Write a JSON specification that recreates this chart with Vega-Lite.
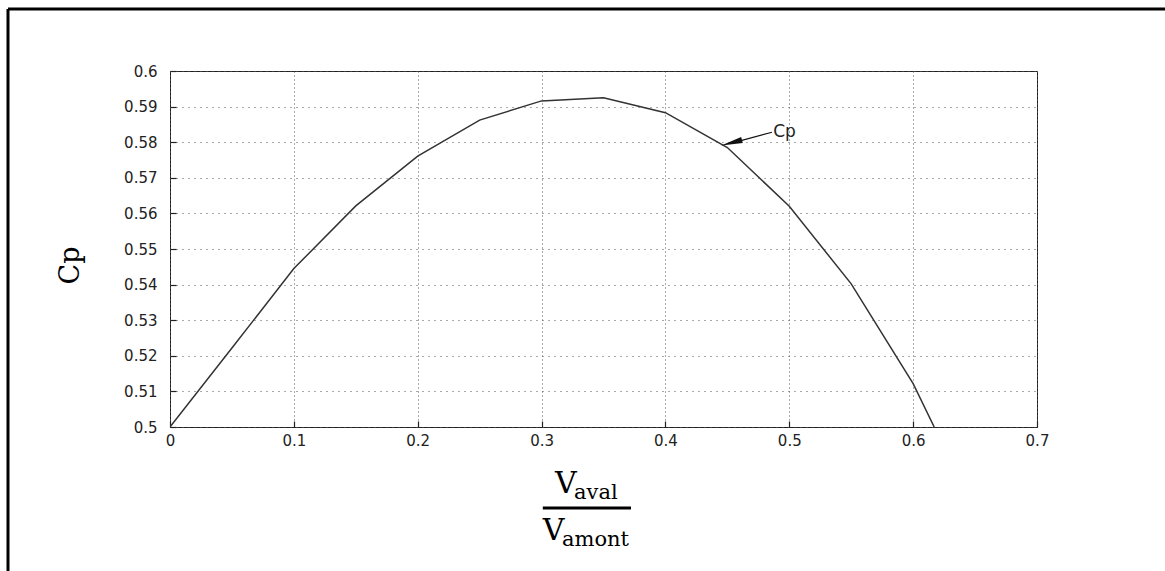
{
  "$schema": "https://vega.github.io/schema/vega-lite/v6.json",
  "width": 867,
  "height": 356,
  "autosize": {"type": "none"},
  "padding": {"left": 170, "top": 71, "right": 128, "bottom": 144},
  "background": "white",
  "config": {
    "view": {"stroke": "#222", "strokeWidth": 1},
    "axis": {
      "labelFont": "DejaVu Sans",
      "labelFontSize": 15,
      "labelColor": "#222",
      "labelOverlap": false,
      "labelFlush": false,
      "domain": false,
      "tickColor": "#222",
      "tickSize": -6,
      "tickWidth": 1.2,
      "gridColor": "#555",
      "gridWidth": 1,
      "gridOpacity": 1
    }
  },
  "datasets": {
    "curve": [
      {"ratio": 0.0, "cp": 0.5},
      {"ratio": 0.05, "cp": 0.5222},
      {"ratio": 0.1, "cp": 0.5445},
      {"ratio": 0.15, "cp": 0.5621},
      {"ratio": 0.2, "cp": 0.5761},
      {"ratio": 0.25, "cp": 0.5862},
      {"ratio": 0.3, "cp": 0.5916},
      {"ratio": 0.35, "cp": 0.5925},
      {"ratio": 0.4, "cp": 0.5883},
      {"ratio": 0.45, "cp": 0.5785},
      {"ratio": 0.5, "cp": 0.562},
      {"ratio": 0.55, "cp": 0.5402},
      {"ratio": 0.6, "cp": 0.5122},
      {"ratio": 0.617, "cp": 0.5}
    ],
    "one": [{}]
  },
  "encoding": {
    "x": {
      "type": "quantitative",
      "scale": {"domain": [0, 0.7], "nice": false, "zero": false},
      "axis": {
        "values": [0, 0.1, 0.2, 0.3, 0.4, 0.5, 0.6, 0.7],
        "tickCount": 30,
        "format": ".1~f",
        "labelPadding": 12,
        "gridDash": [1, 3],
        "title": null
      }
    },
    "y": {
      "type": "quantitative",
      "scale": {"domain": [0.5, 0.6], "nice": false, "zero": false},
      "axis": {
        "values": [0.5, 0.51, 0.52, 0.53, 0.54, 0.55, 0.56, 0.57, 0.58, 0.59, 0.6],
        "tickCount": 30,
        "format": ".2~f",
        "labelPadding": 19,
        "gridDash": [1, 5],
        "title": "Cp",
        "titleFont": "DejaVu Serif",
        "titleFontSize": 27,
        "titleFontWeight": "normal",
        "titleColor": "#000",
        "titleY": 194,
        "titleX": -86
      }
    }
  },
  "layer": [
    {
      "data": {"name": "curve"},
      "mark": {"type": "line", "color": "#333", "strokeWidth": 1.5, "clip": true},
      "encoding": {
        "x": {"field": "ratio", "type": "quantitative"},
        "y": {"field": "cp", "type": "quantitative"}
      }
    },
    {
      "data": {"name": "one"},
      "mark": {"type": "rule", "color": "#111", "strokeWidth": 1.2},
      "encoding": {
        "x": {"datum": 0.486, "type": "quantitative"},
        "y": {"datum": 0.5828, "type": "quantitative"},
        "x2": {"datum": 0.455},
        "y2": {"datum": 0.5799}
      }
    },
    {
      "data": {"name": "one"},
      "mark": {"type": "point", "shape": "wedge", "filled": true, "color": "#111", "size": 620, "angle": 255, "opacity": 1},
      "encoding": {
        "x": {"datum": 0.4562, "type": "quantitative"},
        "y": {"datum": 0.5801, "type": "quantitative"}
      }
    },
    {
      "data": {"name": "one"},
      "mark": {"type": "text", "font": "DejaVu Sans", "fontSize": 17, "color": "#222", "align": "left", "baseline": "middle"},
      "encoding": {
        "x": {"datum": 0.487, "type": "quantitative"},
        "y": {"datum": 0.5829, "type": "quantitative"},
        "text": {"value": "Cp"}
      }
    },
    {
      "data": {"name": "one"},
      "mark": {"type": "text", "font": "DejaVu Serif", "fontSize": 30, "color": "#000", "align": "left", "baseline": "alphabetic"},
      "encoding": {
        "x": {"datum": 0.3108, "type": "quantitative"},
        "y": {"datum": 0.48146, "type": "quantitative"},
        "text": {"value": "V"}
      }
    },
    {
      "data": {"name": "one"},
      "mark": {"type": "text", "font": "DejaVu Serif", "fontSize": 21, "color": "#000", "align": "left", "baseline": "alphabetic"},
      "encoding": {
        "x": {"datum": 0.3262, "type": "quantitative"},
        "y": {"datum": 0.47978, "type": "quantitative"},
        "text": {"value": "aval"}
      }
    },
    {
      "data": {"name": "one"},
      "mark": {"type": "rule", "color": "#000", "strokeWidth": 3},
      "encoding": {
        "x": {"datum": 0.301, "type": "quantitative"},
        "x2": {"datum": 0.3722},
        "y": {"datum": 0.47725, "type": "quantitative"}
      }
    },
    {
      "data": {"name": "one"},
      "mark": {"type": "text", "font": "DejaVu Serif", "fontSize": 30, "color": "#000", "align": "left", "baseline": "alphabetic"},
      "encoding": {
        "x": {"datum": 0.301, "type": "quantitative"},
        "y": {"datum": 0.46826, "type": "quantitative"},
        "text": {"value": "V"}
      }
    },
    {
      "data": {"name": "one"},
      "mark": {"type": "text", "font": "DejaVu Serif", "fontSize": 21, "color": "#000", "align": "left", "baseline": "alphabetic"},
      "encoding": {
        "x": {"datum": 0.3165, "type": "quantitative"},
        "y": {"datum": 0.46657, "type": "quantitative"},
        "text": {"value": "amont"}
      }
    },
    {
      "data": {"name": "one"},
      "mark": {"type": "rule", "color": "#000", "strokeWidth": 3},
      "encoding": {
        "x": {"datum": -0.1308, "type": "quantitative"},
        "y": {"datum": 0.4500, "type": "quantitative"},
        "y2": {"datum": 0.6174}
      }
    },
    {
      "data": {"name": "one"},
      "mark": {"type": "rule", "color": "#000", "strokeWidth": 3},
      "encoding": {
        "x": {"datum": -0.1308, "type": "quantitative"},
        "x2": {"datum": 0.81},
        "y": {"datum": 0.6174, "type": "quantitative"}
      }
    }
  ]
}
